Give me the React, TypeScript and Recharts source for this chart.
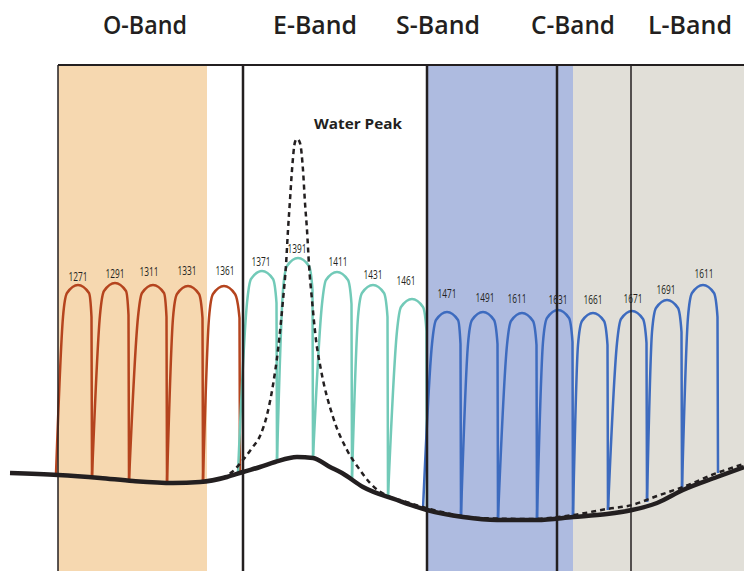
import { ComposedChart, Line, ReferenceArea, ReferenceLine, Scatter, XAxis, YAxis } from 'recharts';

// x = position along the spectrum, y = attenuation level (up = more loss)
const bandNames = ['O-Band', 'E-Band', 'S-Band', 'C-Band', 'L-Band'];
const bandTitleX = [145, 315, 438, 573, 690];
const bandTitleLevel = 547;

const channelNames = [
  '1271', '1291', '1311', '1331', '1361',
  '1371', '1391', '1411', '1431', '1461',
  '1471', '1491', '1611', '1631', '1661', '1671', '1691', '1611',
];
const channelPeakX = [78, 115, 153, 188, 224, 262, 298, 337, 373, 412, 447, 483, 522, 558, 593, 632, 667, 703];
const channelPeak = [286, 288, 286, 285, 285, 300, 313, 299, 286, 272, 259, 259, 258, 261, 258, 260, 271, 286];
const channelLeftX = [56, 92, 129, 167, 203, 238, 277, 313, 352, 388, 423, 461, 498, 537, 573, 608, 647, 682];
const channelLeftFloor = [97, 94, 90, 88, 90, 98, 110, 113, 93, 74, 62, 56, 53, 53, 55, 61, 69, 82];
const channelRightX = [92, 129, 167, 203, 240, 277, 313, 352, 388, 427, 461, 498, 537, 573, 608, 647, 682, 718];
const channelRightFloor = [94, 90, 88, 90, 98, 110, 113, 93, 74, 61, 56, 53, 53, 55, 61, 69, 82, 98];
const channelLabelX = [78, 115, 149, 187, 225, 261, 297, 338, 373, 406, 447, 485, 517, 558, 593, 633, 666, 704];
const channelLabelLevel = [295, 298, 300, 301, 301, 310, 323, 310, 297, 291, 278, 274, 273, 272, 272, 273, 282, 298];

const fiberLossX = [10, 58, 100, 133, 173, 200, 227, 243, 260, 275, 297, 313, 330, 342, 363, 397, 427, 463, 497, 537, 573, 607, 632, 657, 683, 717, 744];
const fiberLoss = [98, 96, 93, 90, 88, 89, 94, 99, 104, 109, 114, 113, 104, 98, 84, 71, 61, 54, 51, 51, 54, 57, 61, 68, 81, 94, 104];

const waterPeakX = [222, 232, 243, 252, 260, 267, 273, 278, 283, 286, 288, 290, 292, 295, 297, 300, 303, 305, 307, 309, 312, 316, 321, 333, 347, 360, 370, 390, 400, 430, 480, 530, 573, 607, 632, 657, 683, 717, 744];
const waterPeak = [93, 99, 111, 123, 135, 156, 186, 221, 271, 306, 341, 371, 401, 429, 432, 428, 401, 368, 341, 306, 271, 231, 201, 154, 121, 101, 88, 74, 71, 62, 53, 52, 56, 62, 66, 75, 84, 98, 107];

const ink = '#231f20';
const bandColors = ['#b5441e', '#72cab8', '#3d6bbf'];

function channelColor(i: number) {
  if (i < 5) return bandColors[0];
  if (i < 10) return bandColors[1];
  return bandColors[2];
}

function archPoints(i: number) {
  const c = channelPeakX[i];
  const top = channelPeak[i];
  const r = channelRightX[i];
  return [
    { x: channelLeftX[i], y: channelLeftFloor[i] },
    { x: c - 15, y: top - 32 },
    { x: c - 11, y: top - 8 },
    { x: c, y: top },
    { x: c + 11, y: top - 8 },
    { x: r - 0.5, y: top - 32 },
    { x: r, y: channelRightFloor[i] },
  ];
}

const fiberData = fiberLossX.map((x, i) => ({ x, y: fiberLoss[i] }));
const waterData = waterPeakX.map((x, i) => ({ x, y: waterPeak[i] }));
const channelLabelData = channelNames.map((name, i) => ({ x: channelLabelX[i], y: channelLabelLevel[i], name }));
const bandTitleData = bandNames.map((name, i) => ({ x: bandTitleX[i], y: bandTitleLevel, name }));
const noteData = [{ x: 358, y: 448, name: 'Water Peak' }];

const frameTop = 506;
const dividers = [
  { x: 58, w: 1.5 },
  { x: 243, w: 2.5 },
  { x: 427, w: 2.5 },
  { x: 557, w: 2.5 },
  { x: 631, w: 1.5 },
];

function makeText(size: number, weight: number, length: number) {
  return (props: any) => (
    <text
      x={props.cx}
      y={props.cy}
      textAnchor="middle"
      dominantBaseline="central"
      fontFamily="'Open Sans', sans-serif"
      fontSize={size}
      fontWeight={weight}
      fill={ink}
      textLength={length}
      lengthAdjust="spacingAndGlyphs"
    >
      {props.payload.name}
    </text>
  );
}

export default function App() {
  return (
    <div style={{ position: 'absolute', left: 0, top: 0, background: '#fff' }}>
      <ComposedChart width={744} height={571} margin={{ top: 0, right: 0, bottom: 0, left: 0 }}>
        <XAxis type="number" dataKey="x" domain={[0, 744]} hide />
        <YAxis type="number" domain={[0, 571]} hide />

        <ReferenceArea x1={58} x2={207} y1={0} y2={frameTop} fill="#f6d8b0" fillOpacity={1} stroke="none" />
        <ReferenceArea x1={427} x2={573} y1={0} y2={frameTop} fill="#aebbe0" fillOpacity={1} stroke="none" />
        <ReferenceArea x1={573} x2={744} y1={0} y2={frameTop} fill="#e1dfd8" fillOpacity={1} stroke="none" />

        {channelNames.map((name, i) => (
          <Line
            key={name + i}
            data={archPoints(i)}
            dataKey="y"
            type="monotone"
            stroke={channelColor(i)}
            strokeWidth={2.5}
            dot={false}
            activeDot={false}
            isAnimationActive={false}
          />
        ))}

        <Line
          data={waterData}
          dataKey="y"
          type="monotone"
          stroke={ink}
          strokeWidth={2.5}
          strokeDasharray="5 4"
          dot={false}
          activeDot={false}
          isAnimationActive={false}
        />
        <Line
          data={fiberData}
          dataKey="y"
          type="monotone"
          stroke={ink}
          strokeWidth={4.5}
          dot={false}
          activeDot={false}
          isAnimationActive={false}
        />

        {dividers.map((d) => (
          <ReferenceLine
            key={d.x}
            segment={[{ x: d.x, y: 0 }, { x: d.x, y: frameTop }]}
            stroke={ink}
            strokeWidth={d.w}
            zIndex={450}
          />
        ))}
        <ReferenceLine
          segment={[{ x: 58, y: frameTop }, { x: 744, y: frameTop }]}
          stroke={ink}
          strokeWidth={2}
          zIndex={450}
        />

        <Scatter data={channelLabelData} dataKey="y" shape={makeText(12, 400, 19)} isAnimationActive={false} />
        <Scatter data={bandTitleData} dataKey="y" shape={makeText(25, 600, 84)} isAnimationActive={false} />
        <Scatter data={noteData} dataKey="y" shape={makeText(15, 700, 88)} isAnimationActive={false} />
      </ComposedChart>
    </div>
  );
}
